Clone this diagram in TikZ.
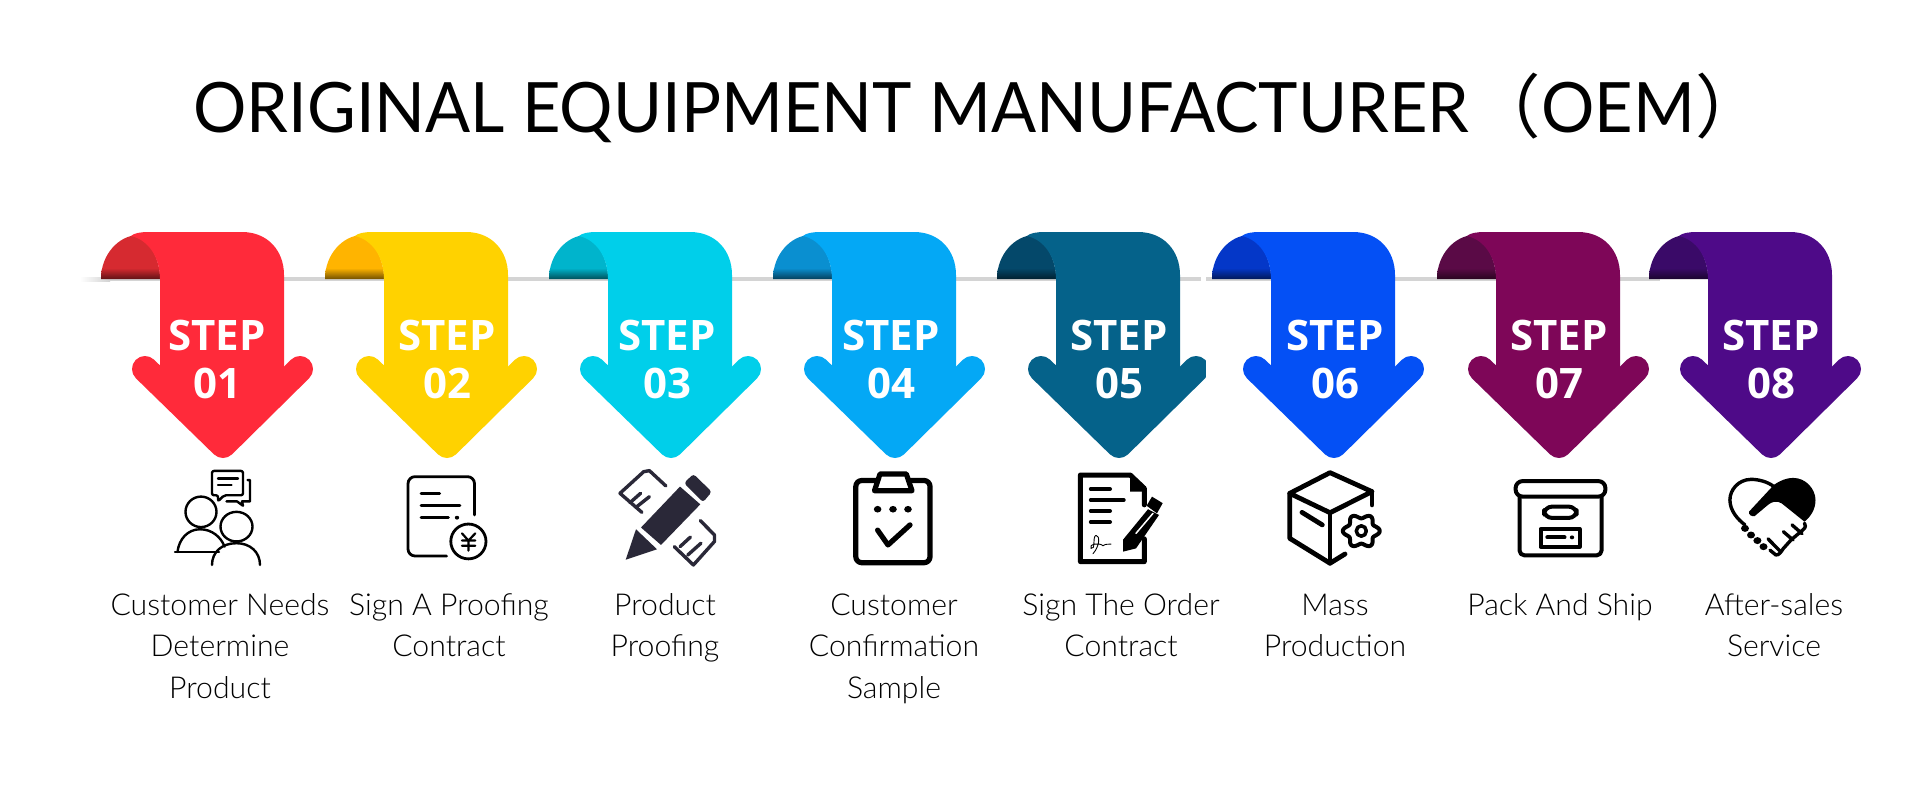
\documentclass[tikz,border=0pt]{standalone}
\usepackage{fontspec}
\usetikzlibrary{positioning}
\setmainfont{Lato}[UprightFont=* Light]
\newfontfamily\titlefont{Lato}[FakeStretch=0.96]
\newfontfamily\stepfont{Open Sans}
\newfontfamily\cjk{Noto Sans CJK SC}
\definecolor{cRed}{HTML}{FF2A3A}    \definecolor{dRed}{HTML}{D62A30}
\definecolor{cYellow}{HTML}{FFD200} \definecolor{dYellow}{HTML}{FFB400}
\definecolor{cCyan}{HTML}{00CFEA}   \definecolor{dCyan}{HTML}{00B4CC}
\definecolor{cSky}{HTML}{04A8F5}    \definecolor{dSky}{HTML}{0A8FD0}
\definecolor{cTeal}{HTML}{05628A}   \definecolor{dTeal}{HTML}{04486A}
\definecolor{cBlue}{HTML}{0450F5}   \definecolor{dBlue}{HTML}{0437C8}
\definecolor{cPlum}{HTML}{7E0658}   \definecolor{dPlum}{HTML}{5A0A46}
\definecolor{cViolet}{HTML}{4E0A88} \definecolor{dViolet}{HTML}{3A0A68}
\definecolor{penInk}{HTML}{2A2838}
\tikzset{
  steptext/.style={text=white, font=\stepfont\bfseries\fontsize{42}{42}\selectfont, inner sep=0pt},
  labeltext/.style={align=center, font=\fontsize{30.2}{41.5}\selectfont, inner sep=0pt, anchor=base},
  icon/.style={draw=black, line width=#1, line cap=round, line join=round},
  icon/.default=5,
  iconrow/.style={shift={(0,450)}, yscale=0.871, shift={(0,-450)}}
}
\begin{document}
\begin{tikzpicture}[x=1pt, y=-1pt]
  \useasboundingbox (0,0) rectangle (1920,800);
  \fill[white] (0,0) rectangle (1920,800);
  \node (title) [inner sep=0pt] at (979,108) {\titlefont\fontsize{69.5}{69.5}\selectfont ORIGINAL EQUIPMENT MANUFACTURER\hspace{3pt}{\cjk （}OEM{\cjk ）}};
  % shelf line
  \shade[left color=white, right color=black!18] (80,277) rectangle (110,281);
  \fill[black!17] (110,277) rectangle (1660,281);
  % arrows
  \foreach \xa/\col/\dk in {101/cRed/dRed, 325/cYellow/dYellow, 549/cCyan/dCyan, 773/cSky/dSky, 997/cTeal/dTeal, 1212/cBlue/dBlue, 1437/cPlum/dPlum, 1649/cViolet/dViolet} {
    \begin{scope}[shift={(\xa,0)}]
      \ifnum\xa=1212 \fill[white] (-6,300) rectangle (0,400); \fill[white] (-11,275) rectangle (-6,283); \fi
      \begin{scope}
        \clip (0,279) .. controls (0,254) and (18,236) .. (36,235) .. controls (48,240) and (59,258) .. (59,279) -- cycle;
        \fill[\dk] (0,230) rectangle (60,279);
        \shade[top color=\dk, bottom color=\dk!45!black] (0,268) rectangle (60,279);
      \end{scope}
      \fill[\col] (59,375) -- (59,279) .. controls (59,258) and (48,240) .. (30,236) .. controls (33,233) and (40,232) .. (48,232) -- (141,232) .. controls (166,232) and (183,250) .. (183,275) -- (183,375) -- cycle;
      \fill[\col] (44,369) -- (122,445) -- (199,369) -- cycle;
      \draw[\col, line width=26, line cap=round, line join=round] (44,369) -- (122,445) -- (199,369);
    \end{scope}
  }
  % step texts
  \foreach \xs/\num [count=\i] in {217/01, 447/02, 667/03, 891/04, 1119/05, 1335/06, 1559/07, 1771/08} {
    \node (step\i) [steptext] at (\xs,335) {STEP};
    \node (num\i) [steptext, below=17pt of step\i] {\num};
  }
  % labels
  \foreach \xs/\yl/\txt [count=\i] in {220/698/{Customer Needs\\Determine\\Product}, 449/656.5/{Sign A Proofing\\Contract}, 665/656.5/{Product\\Proofing}, 894/698/{Customer\\Confirmation\\Sample}, 1121/656.5/{Sign The Order\\Contract}, 1335/656.5/{Mass\\Production}, 1560/615/{Pack And Ship}, 1774/656.5/{After-sales\\Service}} {
    \node (label\i) [labeltext] at (\xs,\yl) {\txt};
  }
  \begin{scope}[iconrow]
  % icon 1
  \begin{scope}[icon=2.4]
    \draw[rounded corners=2] (218,509) -- (218,502) -- (212,502) -- (212,474) -- (243,474) -- (243,502) -- (224,502) -- cycle;
    \draw (218,482.5) -- (238,482.5) (218,490) -- (231.5,490);
    \draw (247.6,484.5) -- (250,484.5) -- (250,509) -- (242,509) -- (243,514) -- (237,509) -- (226.5,509);
    \draw (201,521) ellipse [x radius=15.5, y radius=17.5];
    \draw (175,567) -- (219,567);
    \draw (177.5,567) .. controls (179,552) and (188,541) .. (200,541) .. controls (212,541) and (221,550) .. (224.6,561);
    \draw (236.5,538) ellipse [x radius=16, y radius=17];
    \draw (212,582) .. controls (212,567) and (222,557) .. (236.5,557) .. controls (250,557) and (260,567) .. (260,582);
  \end{scope}
  % icon 2
  \begin{scope}[icon=2.8]
    \draw[rounded corners=7] (474.5,524.6) -- (474.5,480.6) -- (408,480.6) -- (408,571.7) -- (446.6,571.7);
    \draw (421,500) -- (439.7,500) (421,513.5) -- (460,513.5) (421,527.7) -- (448.5,527.7);
    \fill (457,527.7) circle [radius=2.2];
    \draw (468.4,555) ellipse [x radius=17.6, y radius=20];
    \draw[line width=2.2] (462,545.7) -- (468.4,554) -- (475.3,545.7) (468.4,554) -- (468.4,565.6) (462,554) -- (475.3,554) (462,560) -- (475.3,560);
  \end{scope}
  % icon 3
  \begin{scope}[icon=3.4, draw=penInk]
    \fill[penInk] (680,492) -- (700.3,512.4) -- (661,559) -- (641,539) -- cycle;
    \fill[penInk, rounded corners=3] (684,488) -- (693.4,477.5) -- (711.8,498) -- (703,510) -- cycle;
    \fill[penInk] (636,541) -- (657,564) -- (625.7,576) -- cycle;
    \draw (665.9,491.3) -- (649.4,473.7) -- (643.7,474.9) -- (620,499.7) -- (641.9,521.6);
    \draw (630,510.5) -- (640.6,499.7) (636,515.8) -- (649.4,503.6);
    \draw (700.3,531) -- (714.5,547.6) -- (714.5,555) -- (693.4,582) -- (674.3,561);
    \draw (680,561) -- (690.4,550) (687.7,570.6) -- (701,557);
  \end{scope}
  % icon 4
  \begin{scope}[icon=5.2]
    \draw[rounded corners=6] (855.8,485) rectangle (930,579.4);
    \draw[fill=white] (880,477.5) -- (906.3,477.5) -- (912,496.7) -- (874.5,496.7) -- cycle;
    \foreach \xd in {877.6,893,908} \fill (\xd,518) circle [radius=3.8];
    \draw (877.6,542) -- (888,559) -- (910,536);
  \end{scope}
  % icon 5
  \begin{scope}[icon=5]
    \draw (1144.3,513) -- (1144.3,494) -- (1130.2,478.7) -- (1080.4,478.7) -- (1080.4,578.2) -- (1144.3,578.2) -- (1144.3,552);
    \fill (1130.2,478.7) -- (1130.2,497.8) -- (1145.5,497.8) -- cycle;
    \draw[line width=4] (1090.8,494.8) -- (1110,494.8) (1090.8,507.4) -- (1123.7,507.4) (1090.8,520) -- (1110,520) (1090.8,532.7) -- (1110,532.7);
    \draw[line width=0.9] (1093,569) .. controls (1100,560) and (1100,548) .. (1096,548) .. controls (1092,550) and (1096,565) .. (1091,563) .. controls (1088,558) and (1100,556) .. (1103,560) .. controls (1106,557) and (1108,559) .. (1111,558);
    \fill (1148,518) -- (1159,524.6) -- (1136,563) -- (1123,566.7) -- (1123,553) -- cycle;
    \fill (1152,503.6) -- (1162.7,511) -- (1157,522.7) -- (1146.6,514) -- cycle;
    \draw[white, line width=1.5] (1153,522.7) -- (1136,545.7);
  \end{scope}
  % icon 6
  \begin{scope}[icon=4.8]
    \draw (1330,476) -- (1372,497.8) -- (1330,522) -- (1289.7,499.8) -- cycle;
    \draw (1289.7,499.8) -- (1289.7,551.4) -- (1330,580) -- (1345,569.4);
    \draw (1330,522) -- (1330,580) (1372,497.8) -- (1372,513);
    \draw (1302,521.6) -- (1322.3,536);
    \draw[line width=4] plot[domain=0:360, samples=73, smooth] ({1361.3+(16+2.5*cos(6*\x))*cos(\x)}, {543+(17+2.5*cos(6*\x))*sin(\x)});
    \draw[line width=3.5] (1361.3,543) ellipse [x radius=5, y radius=6];
  \end{scope}
  % icon 7
  \begin{scope}[icon=4]
    \draw[rounded corners=7] (1515.6,503.5) -- (1515.6,485.7) -- (1605.4,485.7) -- (1605.4,503.5) -- cycle;
    \draw[rounded corners=5] (1519.5,503.5) -- (1519.5,571) -- (1601.6,571) -- (1601.6,503.5);
    \draw[rounded corners=8] (1544,515) rectangle (1576.7,528);
    \draw (1540.5,540.8) rectangle (1579.7,561);
    \draw (1547.3,550.3) -- (1564.5,550.3);
    \fill (1572,550.3) circle [radius=2.2];
  \end{scope}
  % icon 8
  \begin{scope}[icon=3.4]
    \draw (1773.9,492) .. controls (1767,486) and (1758,483.7) .. (1751,483.7) .. controls (1738,484) and (1729.9,496) .. (1729.9,507.4) .. controls (1730,520) and (1738,530) .. (1745,536);
    \fill (1773.9,490) .. controls (1780,485) and (1787,482) .. (1793,482) .. controls (1806,482) and (1815.5,495) .. (1815.5,507.4) .. controls (1815.5,518) and (1811,526) .. (1804.5,532.3) -- (1781.6,511.2) .. controls (1777,508) and (1772,509) .. (1768,513) -- (1754.7,525.8) .. controls (1752,527) and (1748,524) .. (1749,520.8) -- cycle;
    \foreach \xb/\yb in {1745/540, 1751/547.6, 1757.4/554, 1763.5/561} \fill (\xb,\yb) circle [radius=4];
    \draw (1770,565) -- (1775.8,570.5) .. controls (1779,571) and (1781,567) .. (1783.4,563) -- (1791,553.3) -- (1802.6,542) .. controls (1806,539) and (1806,536) .. (1804.5,534);
    \draw (1783.4,543.8) -- (1793,553.3) (1792,536) -- (1802,546) (1768,552) -- (1780,566);
  \end{scope}
  \end{scope}
\end{tikzpicture}
\end{document}
